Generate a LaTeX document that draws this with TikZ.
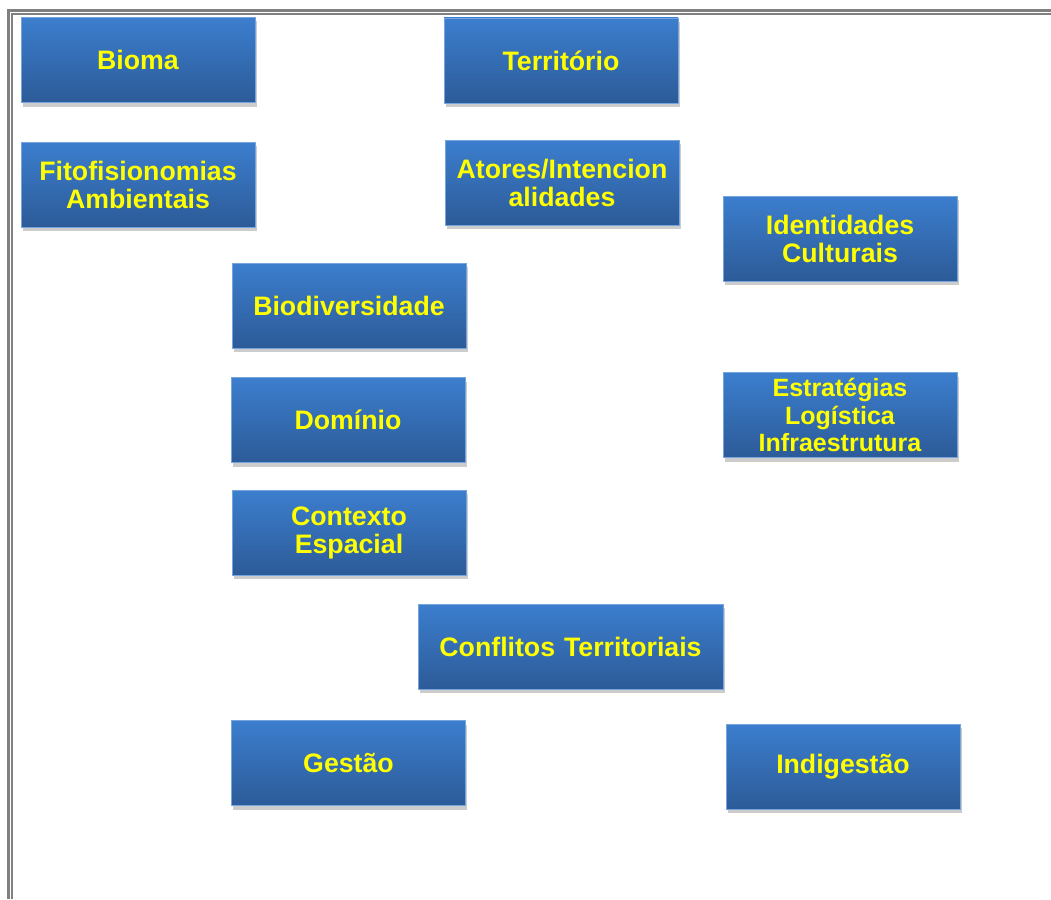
\documentclass[tikz,border=0pt]{standalone}
\usepackage{fontspec}
\setmainfont{Liberation Sans}
\usepackage{xcolor}
\usetikzlibrary{positioning,shadows}

\definecolor{boxtop}{RGB}{60,126,206}
\definecolor{boxbottom}{RGB}{44,91,152}
\definecolor{framegray}{RGB}{128,128,128}
\definecolor{labelyellow}{RGB}{255,255,0}

\begin{document}
\begin{tikzpicture}[x=1pt, y=-1pt, node distance=124.5pt, on grid,
    concept/.style={rectangle, minimum width=234pt, minimum height=85pt,
        inner sep=0pt, text width=230pt, align=center,
        top color=boxtop, bottom color=boxbottom, draw=boxtop!70!white, line width=0.4pt,
        drop shadow={shadow xshift=1.5pt, shadow yshift=-4pt, opacity=0.4},
        font=\fontsize{26.7}{28}\selectfont\bfseries, text=labelyellow},
    wide/.style={minimum width=305pt, text width=300pt},
    frameline/.style={draw=framegray}]

    \useasboundingbox (0,0) rectangle (1051,899);

    % frame
    \draw[frameline, line width=3.3pt] (6.6,10.3) -- (1051,10.3);
    \draw[frameline, line width=1.6pt] (11,13.8) -- (1051,13.8);
    \draw[frameline, line width=3.3pt] (8.3,8.6) -- (8.3,899);
    \draw[frameline, line width=2.2pt] (12.2,13) -- (12.2,899);

    % left column
    \node[concept] (bioma) at (138,60) {Bioma};
    \node[concept] (fito) [below=of bioma] {Fitofisionomias\\Ambientais};

    % middle column
    \node[concept] (biodiv) at (349,305.5) {Biodiversidade};
    \node[concept] (dominio) at (348,420) {Domínio};
    \node[concept] (contexto) at (349,532.5) {Contexto\\Espacial};
    \node[concept] (gestao) at (348.5,763) {Gestão};

    % upper middle
    \node[concept] (territorio) at (561,60.5) {Território};
    \node[concept] (atores) at (562,182.5) {Atores/Intencion\\alidades};
    \node[concept, wide] (conflitos) at (570.5,646.5) {Conflitos Territoriais};

    % right column
    \node[concept] (identidades) at (840,238.5) {Identidades\\Culturais};
    \node[concept, font=\fontsize{25}{27.5}\selectfont\bfseries] (estrategias) at (840,415)
        {Estratégias\\Logística\\Infraestrutura};
    \node[concept] (indigestao) at (843,766.5) {Indigestão};

\end{tikzpicture}
\end{document}
